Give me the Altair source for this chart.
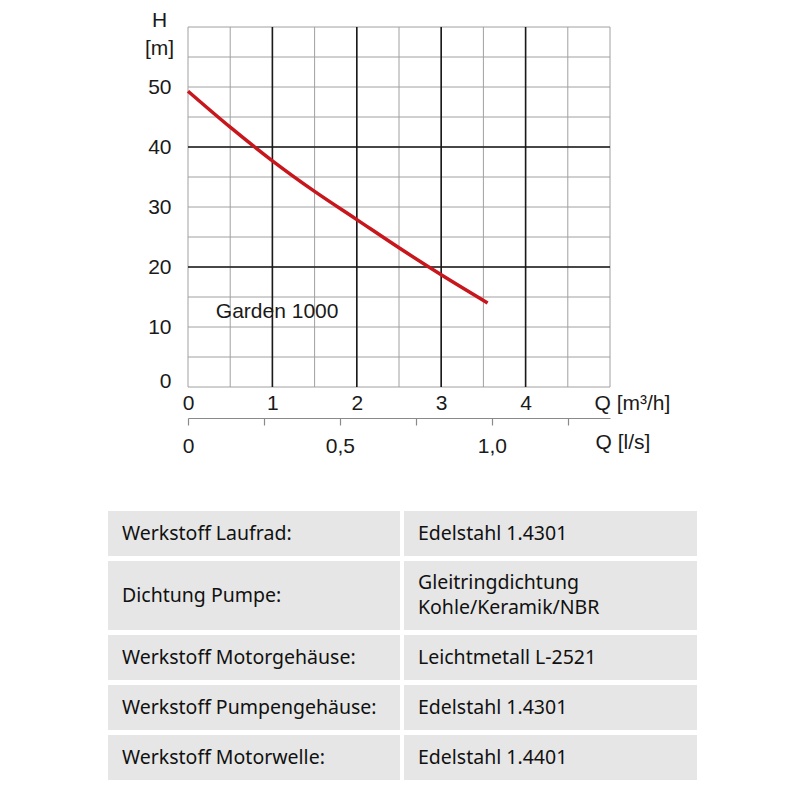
import altair as alt
import pandas as pd

# ---- pump curve (Garden 1000) ----
q_curve = [0, 0.5, 1, 1.5, 2, 2.5, 3, 3.55]
h_curve = [49.3, 43.3, 37.7, 32.6, 27.9, 23.2, 18.7, 14.0]
series_name = "Garden 1000"
label_q = [0.33]
label_h = [12.5]

# ---- grid and axes ----
q_grid = [0, 0.5, 1, 1.5, 2, 2.5, 3, 3.5, 4, 4.5, 5]
h_grid = [0, 5, 10, 15, 20, 25, 30, 35, 40, 45, 50, 55, 60]
q_major = [1, 2, 3, 4]
h_major = [20, 40]
q_ticks = [0, 1, 2, 3, 4]
h_ticks = [0, 10, 20, 30, 40, 50]
ls_ticks = [0, 0.25, 0.5, 0.75, 1.0, 1.25]
ls_max = 5 / 3.6

# ---- spec table ----
table_keys = ["Werkstoff Laufrad:", "Dichtung Pumpe:", "Werkstoff Motorgehäuse:",
              "Werkstoff Pumpengehäuse:", "Werkstoff Motorwelle:"]
table_vals = ["Edelstahl 1.4301", "Gleitringdichtung\nKohle/Keramik/NBR", "Leichtmetall L-2521",
              "Edelstahl 1.4301", "Edelstahl 1.4401"]

FONT = "Liberation Sans"
TFONT = "Noto Sans"
FS = 21

xs = alt.Scale(domain=[0, 5], nice=False, zero=False)
ys = alt.Scale(domain=[0, 60], nice=False, zero=False)

grid_q_df = pd.DataFrame({"q": q_grid})
grid_h_df = pd.DataFrame({"h": h_grid})
maj_q_df = pd.DataFrame({"q": q_major})
maj_h_df = pd.DataFrame({"h": h_major})
curve_df = pd.DataFrame({"q": q_curve, "h": h_curve})
lab_df = pd.DataFrame({"q": label_q, "h": label_h, "t": [series_name]})

xaxis = alt.Axis(values=q_ticks, format="d", domain=False, ticks=False, grid=False,
                 labelFlush=False,
                 labelFont=FONT, labelFontSize=FS, labelColor="#1a1a1a", labelPadding=5,
                 title="Q [m³/h]", titleFont=FONT, titleFontSize=FS, titleFontWeight="normal",
                 titleColor="#1a1a1a", titleX=406, titleY=16, titleAlign="left",
                 titleBaseline="middle", titleAnchor="start")
yaxis = alt.Axis(values=h_ticks, format="d", domain=False, ticks=False, grid=False,
                 labelFont=FONT, labelFontSize=FS, labelColor="#1a1a1a", labelPadding=17,
                 labelFlush=True, labelFlushOffset=4,
                 title=["H", "[m]"], titleFont=FONT, titleFontSize=FS, titleFontWeight="normal",
                 titleColor="#1a1a1a", titleAngle=0, titleX=-29, titleY=-18,
                 titleAlign="center", titleBaseline="top", titleLineHeight=28)

vmin = alt.Chart(grid_q_df).mark_rule(color="#a0a0a0", strokeWidth=1).encode(
    x=alt.X("q:Q", scale=xs, axis=xaxis))
hmin = alt.Chart(grid_h_df).mark_rule(color="#a0a0a0", strokeWidth=1).encode(
    y=alt.Y("h:Q", scale=ys, axis=yaxis))
vmaj = alt.Chart(maj_q_df).mark_rule(color="#1a1a1a", strokeWidth=1.6).encode(
    x=alt.X("q:Q", scale=xs))
hmaj = alt.Chart(maj_h_df).mark_rule(color="#1a1a1a", strokeWidth=1.6).encode(
    y=alt.Y("h:Q", scale=ys))
curve = alt.Chart(curve_df).mark_line(color="#c8161d", strokeWidth=3.5,
                                      interpolate="monotone").encode(
    x=alt.X("q:Q", scale=xs), y=alt.Y("h:Q", scale=ys))
label = alt.Chart(lab_df).mark_text(font=FONT, fontSize=FS, color="#1a1a1a",
                                    align="left", baseline="middle").encode(
    x=alt.X("q:Q", scale=xs), y=alt.Y("h:Q", scale=ys), text="t:N")

graph = alt.layer(vmin, hmin, vmaj, hmaj, curve, label)

# second axis in l/s
ls_df = pd.DataFrame({"ls": ls_ticks})
ls_axis = alt.Axis(orient="bottom", offset=31, values=ls_ticks, grid=False,
                   labelFlush=False,
                   domainColor="#8a8a8a", domainWidth=1.2, tickColor="#8a8a8a",
                   tickSize=7, tickWidth=1.2,
                   labelExpr="datum.value == 0 ? '0' : (datum.value == 0.5 ? '0,5' : (datum.value == 1 ? '1,0' : ''))",
                   labelFont=FONT, labelFontSize=FS, labelColor="#1a1a1a", labelPadding=10,
                   title="Q [l/s]", titleFont=FONT, titleFontSize=FS, titleFontWeight="normal",
                   titleColor="#1a1a1a", titleX=407, titleY=24, titleAlign="left",
                   titleBaseline="middle", titleAnchor="start")
ls_layer = alt.Chart(ls_df).mark_point(opacity=0).encode(
    x=alt.X("ls:Q", scale=alt.Scale(domain=[0, ls_max], nice=False, zero=False), axis=ls_axis))

# table layer (own scales, placed below the graph)
row_h1 = 45
row_extra = 24
gap = 5
line_h = 25
cells_rows = []
text_rows = []
y = 0
for k, v in zip(table_keys, table_vals):
    n = v.count("\n") + 1
    hgt = row_h1 + row_extra * (n - 1)
    mid = y + hgt / 2
    cells_rows.append({"x0": 0, "x1": 292, "y0": y, "y1": y + hgt})
    cells_rows.append({"x0": 296, "x1": 589, "y0": y, "y1": y + hgt})
    text_rows.append({"xt": 14, "ym": mid, "t": k})
    for i, line in enumerate(v.split("\n")):
        text_rows.append({"xt": 310, "ym": mid + (i - (n - 1) / 2) * line_h, "t": line})
    y += hgt + gap
cdf = pd.DataFrame(cells_rows)
tdf = pd.DataFrame(text_rows)
tx = alt.Scale(domain=[0, 589], range=[-80, 509], nice=False, zero=False)
ty = alt.Scale(domain=[0, 269], range=[484, 753], nice=False, zero=False)
cells = alt.Chart(cdf).mark_rect(color="#e6e6e6").encode(
    x=alt.X("x0:Q", scale=tx, axis=None), x2="x1:Q",
    y=alt.Y("y0:Q", scale=ty, axis=None), y2="y1:Q")
texts = alt.Chart(tdf).mark_text(
    font=TFONT, fontSize=19.5, color="#111111", align="left", baseline="middle").encode(
    x=alt.X("xt:Q", scale=tx, axis=None), y=alt.Y("ym:Q", scale=ty, axis=None),
    text="t:N")
table = alt.layer(cells, texts)

chart = alt.layer(graph, ls_layer, table).resolve_scale(
    x="independent", y="independent").properties(
    width=422, height=360,
    padding={"left": 180, "top": 19, "right": 160, "bottom": 400},
    autosize=alt.AutoSizeParams(type="none"),
).configure_view(stroke=None)

chart.save("out.html", embed_options={"renderer": "svg", "actions": False})
